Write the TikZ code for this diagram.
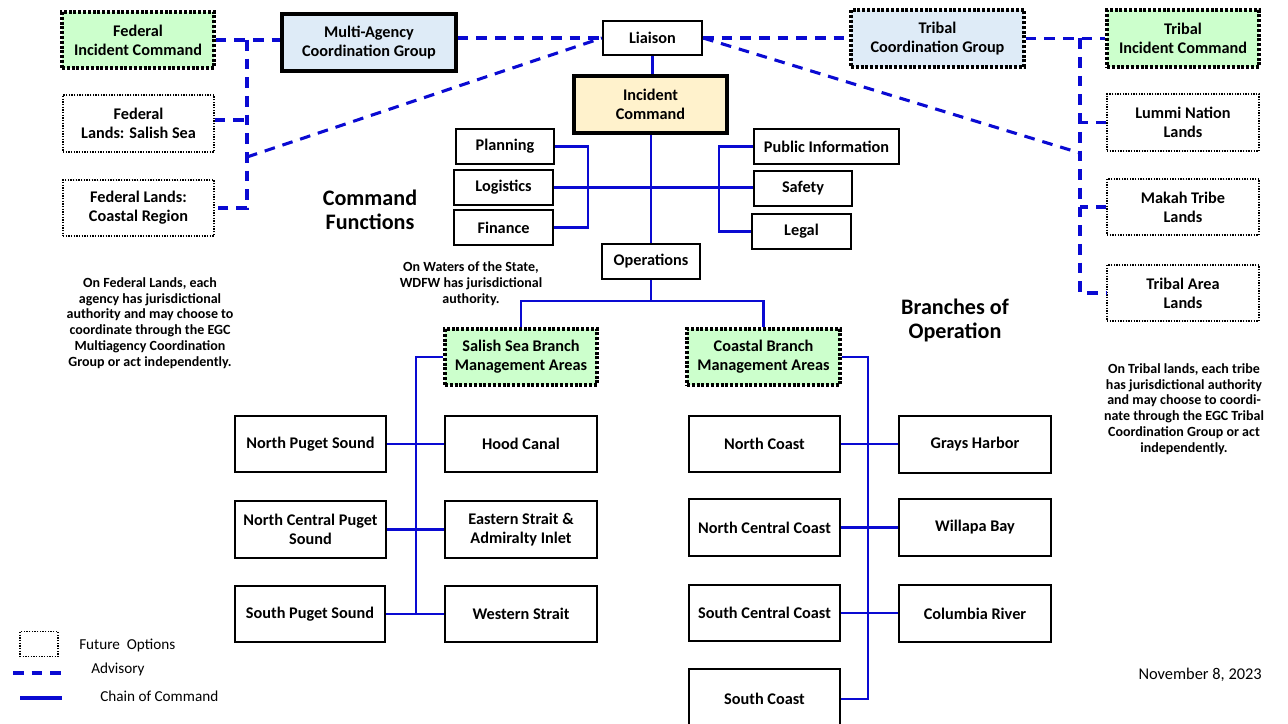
\documentclass[tikz,border=0pt]{standalone}
\usepackage{fontspec}
\setmainfont{Carlito}
\definecolor{lineblue}{RGB}{10,10,210}
\definecolor{fedgreen}{RGB}{204,255,204}
\definecolor{macblue}{RGB}{222,235,247}
\definecolor{icyellow}{RGB}{255,242,204}
\tikzset{
  bx/.style={draw=black, line width=1.6pt, rectangle, inner sep=0pt, align=center,
    font=\bfseries\fontsize{12.2}{14.3}\selectfont},
  futthick/.style={bx, dash pattern=on 2.2pt off 1.4pt, line width=2.5pt},
  futthin/.style={bx, dash pattern=on 1pt off 1pt, line width=1.2pt},
  macbox/.style={bx, line width=2.6pt, fill=macblue},
  icbox/.style={bx, line width=3.6pt, fill=icyellow},
  coc/.style={draw=lineblue, line width=2pt},
  adv/.style={draw=lineblue, line width=2.3pt, dash pattern=on 8pt off 6pt},
  note/.style={align=center, font=\bfseries\fontsize{10.5}{11.9}\selectfont, inner sep=0pt},
  title/.style={align=center, font=\bfseries\fontsize{16.6}{18}\selectfont, inner sep=0pt},
  plain/.style={font=\fontsize{11.4}{13}\selectfont, inner sep=0pt}
}
\newcommand\mybox[7]{\node[#6, minimum width={(#4-#2)*0.75pt}, minimum height={(#5-#3)*0.75pt}] (#1) at ({(#2+#4)/2},{(#3+#5)/2}) {#7};}
\begin{document}
\begin{tikzpicture}[x=0.75pt,y=-0.75pt]
\useasboundingbox[fill=white] (0,0) rectangle (1288,724);
\begin{scope}
\clip (0,0) rectangle (1288,724);
% top left federal
\mybox{fic}{62}{12}{214}{68}{futthick,fill=fedgreen}{Federal\\Incident Command}
\mybox{fls}{63}{95}{214}{152}{futthin}{Federal\\Lands: Salish Sea}
\mybox{fcr}{63}{180}{214}{236}{futthin}{Federal Lands:\\Coastal Region}
\mybox{macg}{282}{14}{456}{71}{macbox}{Multi-Agency\\Coordination Group}
% center
\mybox{lia}{603}{21}{702}{55}{bx}{Liaison}
\mybox{ic}{574}{76}{727}{133}{icbox}{Incident\\Command}
\mybox{plan}{456}{129}{554}{164}{bx}{Planning}
\mybox{log}{454}{170}{553}{205}{bx}{Logistics}
\mybox{fin}{454}{210}{553}{245}{bx}{Finance}
\mybox{pub}{754}{129}{899}{164}{bx}{Public Information}
\mybox{saf}{754}{171}{852}{206}{bx}{Safety}
\mybox{leg}{752}{214}{851}{249}{bx}{Legal}
\mybox{ops}{602}{244}{700}{279}{bx}{Operations}
% right tribal
\mybox{tcg}{851}{10}{1024}{67}{futthick,fill=macblue}{Tribal\\Coordination Group}
\mybox{tic}{1107}{10}{1259}{67}{futthick,fill=fedgreen}{Tribal\\Incident Command}
\mybox{lum}{1107}{94}{1259}{151}{futthin}{Lummi Nation\\Lands}
\mybox{mak}{1107}{179}{1259}{235}{futthin}{Makah Tribe\\Lands}
\mybox{tal}{1107}{265}{1259}{321}{futthin}{Tribal Area\\Lands}
% branches
\mybox{ssb}{445}{329}{597}{385}{futthick,fill=fedgreen}{Salish Sea Branch\\Management Areas}
\mybox{csb}{687}{329}{840}{385}{futthick,fill=fedgreen}{Coastal Branch\\Management Areas}
\mybox{nps}{235}{416}{386}{472}{bx}{North Puget Sound}
\mybox{hood}{445}{416}{597}{472}{bx}{Hood Canal}
\mybox{ncps}{235}{501}{386}{558}{bx}{North Central Puget\\Sound}
\mybox{east}{445}{501}{597}{558}{bx}{Eastern Strait \&\\Admiralty Inlet}
\mybox{sps}{235}{586}{385}{642}{bx}{South Puget Sound}
\mybox{west}{445}{586}{597}{642}{bx}{Western Strait}
\mybox{nc}{689}{416}{840}{472}{bx}{North Coast}
\mybox{gh}{899}{416}{1051}{473}{bx}{Grays Harbor}
\mybox{ncc}{689}{499}{840}{556}{bx}{North Central Coast}
\mybox{wb}{899}{499}{1051}{556}{bx}{Willapa Bay}
\mybox{scc}{689}{585}{840}{641}{bx}{South Central Coast}
\mybox{cr}{899}{585}{1051}{642}{bx}{Columbia River}
\mybox{sc}{689}{669}{840}{729}{bx}{South Coast}
% helper coordinates
\coordinate (bL) at (588,0);
\coordinate (bR) at (719,0);
\coordinate (opsj) at (652,301);
\coordinate (sx) at (416,0);
\coordinate (cx) at (868,0);
\coordinate (fx) at (247,0);
\coordinate (fd) at (247,157);
\coordinate (fy) at (0,120);
\coordinate (tx) at (1080,0);
\coordinate (td) at (1080,153);
% chain of command
\draw[coc] (lia.south) -- (lia.south |- ic.north);
\draw[coc] (ops.north |- ic.south) -- (ops.north);
\draw[coc] (log.east) -- (log.east -| saf.west);
\draw[coc] (plan.east) -- (plan.east -| bL) -- (bL |- fin.east) -- (fin.east);
\draw[coc] (pub.west) -- (pub.west -| bR) -- (bR |- leg.west) -- (leg.west);
\draw[coc] (ops.south) -- (ops.south |- opsj);
\draw[coc] (ssb.north) -- (ssb.north |- opsj) -- (csb.north |- opsj) -- (csb.north);
\draw[coc] (ssb.west) -- (ssb.west -| sx) -- (sx |- sps.east);
\draw[coc] (nps.east) -- (nps.east -| hood.west);
\draw[coc] (ncps.east) -- (ncps.east -| east.west);
\draw[coc] (sps.east) -- (sps.east -| west.west);
\draw[coc] (csb.east) -- (csb.east -| cx) |- (sc.east);
\draw[coc] (nc.east) -- (nc.east -| gh.west);
\draw[coc] (ncc.east) -- (ncc.east -| wb.west);
\draw[coc] (scc.east) -- (scc.east -| cr.west);
% advisory
\draw[adv] (fic.east) -- (fic.east -| macg.west);
\draw[adv] (fx |- fic.east) -- (fx |- fcr.east) -- (fcr.east);
\draw[adv] (fls.east |- fy) -- (fx |- fy);
\draw[adv] (fd) -- (lia.west);
\draw[adv] (lia.west -| macg.east) -- (lia.west);
\draw[adv] (lia.east) -- (lia.east -| tcg.west);
\draw[adv] (lia.east) -- (td);
\draw[adv] (tcg.east) -- (tcg.east -| tic.west);
\draw[adv] (tx |- tcg.east) -- (tx |- tal.west) -- (tal.west);
\draw[adv] (lum.west) -- (lum.west -| tx);
\draw[adv] (mak.west) -- (mak.west -| tx);
% titles and notes
\node[title] (cf) at (370,210) {Command\\Functions};
\node[title] (bo) at (955,320) {Branches of\\Operation};
\node[note] (n1) at (150,323) {On Federal Lands, each\\agency has jurisdictional\\authority and may choose to\\coordinate through the EGC\\Multiagency Coordination\\Group or act independently.};
\node[note] (n2) at (471,284) {On Waters of the State,\\WDFW has jurisdictional\\authority.};
\node[note] (n3) at (1184,409) {On Tribal lands, each tribe\\has jurisdictional authority\\and may choose to coordi-\\nate through the EGC Tribal\\Coordination Group or act\\independently.};
% legend
\node[draw=black, line width=1.2pt, dash pattern=on 1pt off 1pt, minimum width={38*0.75pt}, minimum height={25*0.75pt}, inner sep=0pt] (lg1) at (39,644) {};
\node[plain, anchor=west] (lt1) at (79,645) {Future\ \ Options};
\coordinate (la1) at (13,673);
\coordinate (la2) at (62,673);
\draw[adv] (la1) -- (la2);
\node[plain, anchor=west] (lt2) at (91,669) {Advisory};
\coordinate (lc1) at (20,698);
\coordinate (lc2) at (62,698);
\draw[coc, line width=2.6pt] (lc1) -- (lc2);
\node[plain, anchor=west] (lt3) at (100,696) {Chain of Command};
\node[plain, anchor=east, font=\fontsize{12.3}{14}\selectfont] (date) at (1262,675) {November 8, 2023};
\end{scope}
\end{tikzpicture}
\end{document}
